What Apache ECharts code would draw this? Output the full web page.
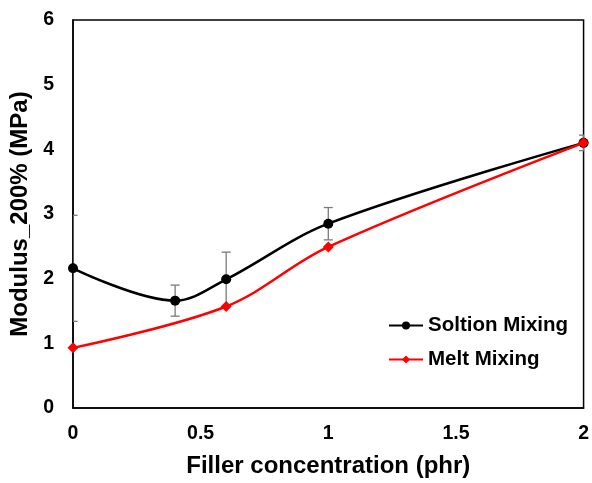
<!DOCTYPE html>
<html>
<head>
<meta charset="utf-8">
<script src="https://cdn.jsdelivr.net/npm/echarts@6/dist/echarts.min.js"></script>
<style>html,body{margin:0;padding:0;background:#fff}#c{width:592px;height:483px}</style>
</head>
<body>
<div id="c"></div>
<script>
const solX = [0, 0.4, 0.6, 1, 2];
const solY = [2.16, 1.66, 1.99, 2.85, 4.10];
const solErr = [0.82, 0.24, 0.42, 0.25, 0.12];
const meltX = [0, 0.6, 1, 2];
const meltY = [0.93, 1.57, 2.49, 4.10];
const xTicks = [0, 0.5, 1, 1.5, 2];
const yTicks = [0, 1, 2, 3, 4, 5, 6];

const font = 'Liberation Sans, Arial, sans-serif';
const chart = echarts.init(document.getElementById('c'));
const errData = solX.map((x, i) => [x, solY[i] - solErr[i], solY[i] + solErr[i]]);

chart.setOption({
  animation: false,
  grid: {left: 73, right: 4, top: 20, bottom: 70, show: true, borderColor: '#000', borderWidth: 1.5},
  xAxis: {
    type: 'value', min: xTicks[0], max: xTicks[xTicks.length-1], interval: 0.5,
    axisLine: {show: true, lineStyle: {color: '#000', width: 1.5}},
    axisTick: {show: false}, splitLine: {show: false},
    axisLabel: {margin: 16, color: '#000', fontFamily: font, fontWeight: 'bold', fontSize: 19.5, showMaxLabel: true},
    name: 'Filler concentration (phr)', nameLocation: 'middle', nameGap: 46,
    nameTextStyle: {color: '#000', fontFamily: font, fontWeight: 'bold', fontSize: 24}
  },
  yAxis: {
    type: 'value', min: yTicks[0], max: yTicks[yTicks.length-1], interval: 1,
    axisLine: {show: true, lineStyle: {color: '#000', width: 1.5}},
    axisTick: {show: false}, splitLine: {show: false},
    axisLabel: {margin: 19, color: '#000', fontFamily: font, fontWeight: 'bold', fontSize: 19.5},
    name: 'Modulus_200% (MPa)', nameLocation: 'middle', nameGap: 30,
    nameTextStyle: {color: '#000', fontFamily: font, fontWeight: 'bold', fontSize: 24}
  },
  legend: {
    left: 383, top: 310, orient: 'vertical', itemGap: 13, itemWidth: 34, itemHeight: 10,
    textStyle: {color: '#000', fontFamily: font, fontWeight: 'bold', fontSize: 20.5},
    data: ['Soltion Mixing', 'Melt Mixing']
  },
  series: [
    {
      type: 'custom', name: 'err', silent: true, z: 1, clip: true,
      data: errData,
      renderItem: function (params, api) {
        const x = api.value(0);
        const lo = api.coord([x, api.value(1)]);
        const hi = api.coord([x, api.value(2)]);
        const w = 4.5;
        const st = {stroke: '#7a7a7a', lineWidth: 1.3};
        return {type: 'group', children: [
          {type: 'line', shape: {x1: lo[0], y1: lo[1], x2: hi[0], y2: hi[1]}, style: st},
          {type: 'line', shape: {x1: lo[0]-w, y1: lo[1], x2: lo[0]+w, y2: lo[1]}, style: st},
          {type: 'line', shape: {x1: hi[0]-w, y1: hi[1], x2: hi[0]+w, y2: hi[1]}, style: st}
        ]};
      }
    },
    {
      type: 'line', name: 'Soltion Mixing', z: 3,
      data: solX.map((x, i) => [x, solY[i]]),
      smooth: 0.35, symbol: 'circle', symbolSize: 10,
      lineStyle: {color: '#000', width: 2.5}, itemStyle: {color: '#000'}
    },
    {
      type: 'line', name: 'Melt Mixing', z: 4,
      data: meltX.map((x, i) => [x, meltY[i]]),
      smooth: 0.35, symbol: 'diamond', symbolSize: 11,
      lineStyle: {color: '#ff0000', width: 2.5}, itemStyle: {color: '#ff0000'}
    }
  ]
});
</script>
</body>
</html>
